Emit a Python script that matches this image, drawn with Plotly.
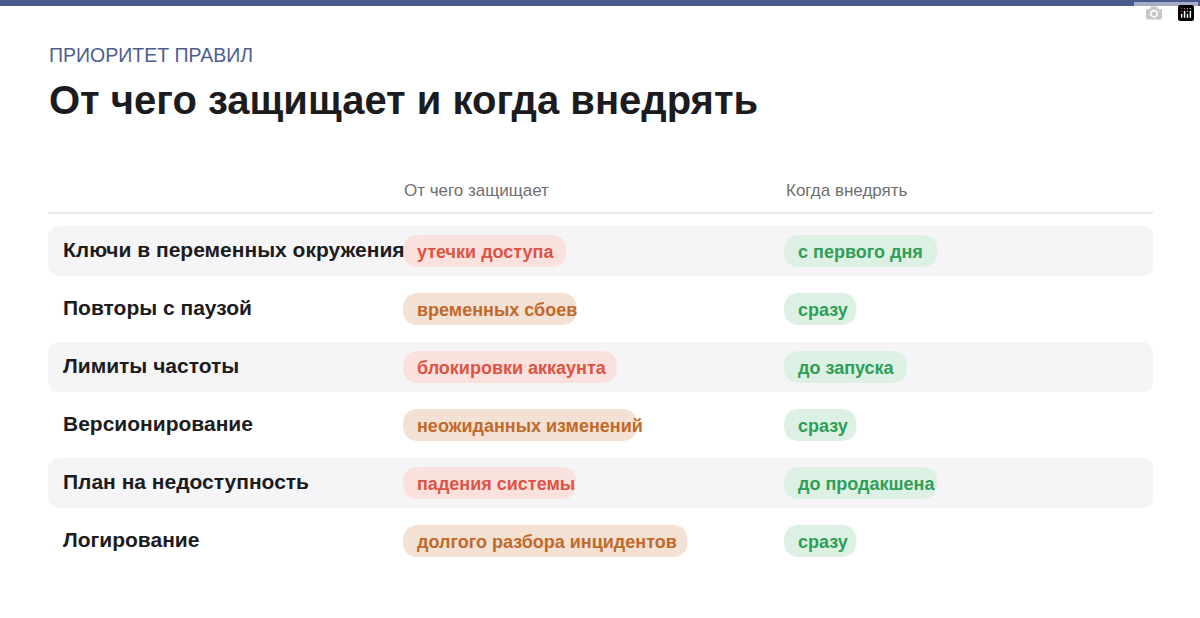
import plotly.graph_objects as go

rules = ["Ключи в переменных окружения", "Повторы с паузой", "Лимиты частоты",
         "Версионирование", "План на недоступность", "Логирование"]
threats = ["утечки доступа", "временных сбоев", "блокировки аккаунта",
           "неожиданных изменений", "падения системы", "долгого разбора инцидентов"]
threat_kind = ["red", "orange", "red", "orange", "red", "orange"]
when = ["с первого дня", "сразу", "до запуска", "сразу", "до продакшена", "сразу"]
headers = ["От чего защищает", "Когда внедрять"]

PAL = {"red": ("#fbe1dd", "#dc5443"), "orange": ("#f3e1d3", "#c1692b"),
       "green": ("#dcf1e3", "#2f9e58")}
FONT = "Liberation Sans, Arial, sans-serif"

def rrect(x0, y0, x1, y1, r):
    return (f"M{x0+r},{y0} L{x1-r},{y0} Q{x1},{y0} {x1},{y0+r} L{x1},{y1-r} "
            f"Q{x1},{y1} {x1-r},{y1} L{x0+r},{y1} Q{x0},{y1} {x0},{y1-r} "
            f"L{x0},{y0+r} Q{x0},{y0} {x0+r},{y0} Z")

shapes, ann = [], []
shapes.append(dict(type="rect", x0=0, x1=1200, y0=0, y1=6, fillcolor="#4b5a8c", line_width=0))
ann.append(dict(x=47, y=55, text="ПРИОРИТЕТ ПРАВИЛ", font=dict(size=19.5, color="#4e5e90", family=FONT)))
ann.append(dict(x=47, y=100, text="<b>От чего защищает и когда внедрять</b>", font=dict(size=40, color="#1c1c1e", family=FONT)))
for hx, h in zip([402, 784], headers):
    ann.append(dict(x=hx, y=190, text=h, font=dict(size=17, color="#707070", family=FONT)))
shapes.append(dict(type="line", x0=48, x1=1153, y0=213, y1=213, line=dict(color="#dedede", width=1.5)))

def pill(x, yc, text, kind):
    bg, fg = PAL[kind]
    w = 10.1 * len(text) + 22
    shapes.append(dict(type="path", path=rrect(x, yc - 16, x + w, yc + 16, 16), fillcolor=bg, line_width=0, layer="below"))
    ann.append(dict(x=x + 12, y=yc + 1, text=f"<b>{text}</b>", font=dict(size=18, color=fg, family=FONT)))

for i, (r, t, k, w) in enumerate(zip(rules, threats, threat_kind, when)):
    yc = 251 + 58 * i
    if i % 2 == 0:
        shapes.append(dict(type="path", path=rrect(48, yc - 25, 1153, yc + 25, 12), fillcolor="#f5f5f7", line_width=0, layer="below"))
    ann.append(dict(x=61, y=yc - 2, text=f"<b>{r}</b>", font=dict(size=21, color="#1c1c1e", family=FONT)))
    pill(403, yc, t, k)
    pill(784, yc, w, "green")

for a in ann:
    a.update(xref="x", yref="y", xanchor="left", yanchor="middle", showarrow=False)

fig = go.Figure()
fig.update_layout(width=1200, height=618, margin=dict(l=0, r=0, t=0, b=0),
                  paper_bgcolor="white", plot_bgcolor="white",
                  xaxis=dict(range=[0, 1200], visible=False, fixedrange=True),
                  yaxis=dict(range=[618, 0], visible=False, fixedrange=True),
                  shapes=shapes, annotations=ann, showlegend=False)
fig.write_html("out.html", post_script="document.body.style.margin='0';")
